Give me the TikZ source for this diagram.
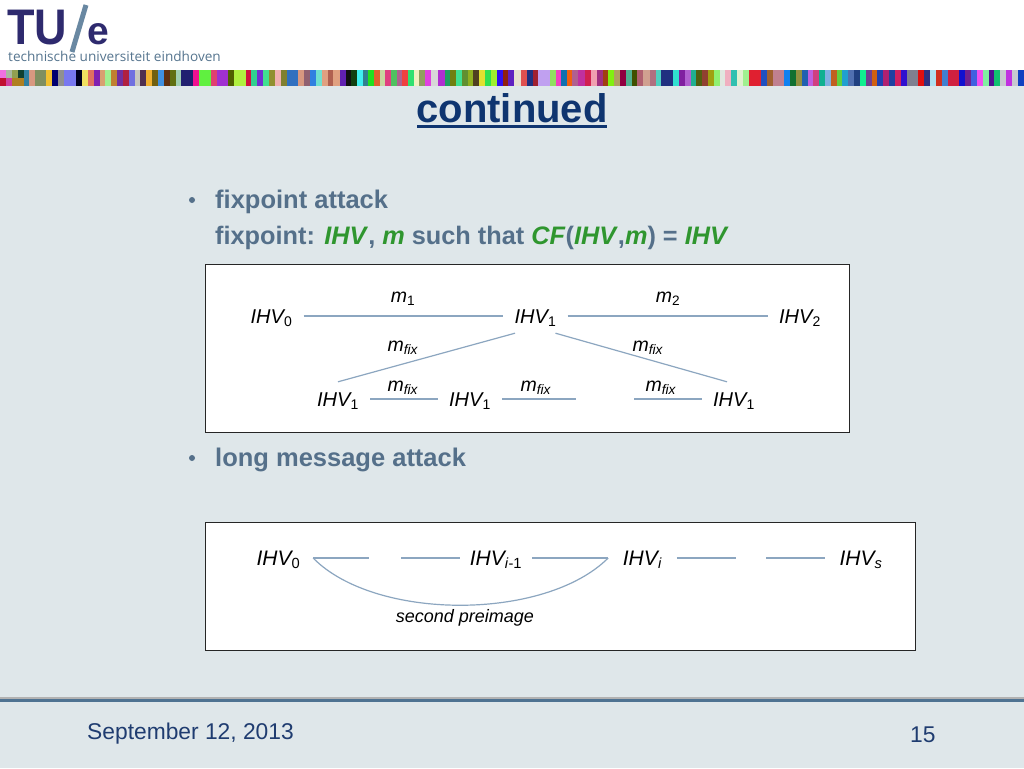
\documentclass[tikz,border=0pt]{standalone}
\usepackage{fontspec}
\setmainfont{Liberation Sans}
\newfontfamily\logofont{Open Sans}
\usetikzlibrary{positioning}

\definecolor{slidebg}{HTML}{DFE7EA}
\definecolor{titleblue}{HTML}{0F3570}
\definecolor{slate}{HTML}{55708A}
\definecolor{termgreen}{HTML}{2F962F}
\definecolor{rulecol}{HTML}{4F7392}
\definecolor{linkcol}{HTML}{8CA6C0}
\definecolor{footcol}{HTML}{1F3C70}
\definecolor{tuenavy}{HTML}{2E2A6E}

\newcommand{\fsz}[1]{\fontsize{#1}{#1}\selectfont}
\newcommand{\ihv}[1]{\textit{IHV}\kern-1.5pt\textsubscript{#1}}
\newcommand{\msg}[1]{\textit{m}\textsubscript{#1}}

\tikzset{
    state/.style={font=\fsz{20}, inner xsep=11pt, inner ysep=2pt, text height=14pt, text depth=0pt},
    lowstate/.style={state, font=\fsz{21}},
    msglabel/.style={font=\fsz{19.5}, inner sep=0pt},
    link/.style={draw=linkcol, line width=1.2pt},
    panel/.style={draw=black!85, fill=white, line width=.8pt},
    bullettext/.style={font=\fsz{25.5}\bfseries, text=slate, anchor=base west, inner sep=0pt},
    foottext/.style={font=\fsz{22.8}, text=footcol, anchor=base west, inner sep=0pt}
}

\begin{document}
\begin{tikzpicture}[x=1pt, y=-1pt, >=latex]
    \useasboundingbox (0,0) rectangle (1024,768);

    % Hintergrund
    \fill [slidebg] (0,0) rectangle (1024,768);
    \fill [white] (0,0) rectangle (1024,70);

    % Farbleiste
    \foreach \barcol/\xb [remember=\xb as \xa (initially 0)] in {
        F070E0/6,A8B8A0/12,90A050/18,104030/24,3080A0/29,D89880/35,7F8F60/46,F0C030/52,
        000070/58,909090/64,7878F0/76,000020/82,F0E060/88,E07060/94,8020B0/100,D8A070/105,
        A0F090/111,C08030/117,7030A0/123,B02040/129,7070E0/135,C8C8C0/140,503050/146,F0B030/152,
        706010/158,4090E0/164,603010/170,607010/176,A0D0B0/181,202070/193,F01090/199,60F040/211,
        E04070/217,A030D0/228,506000/234,B0F040/246,D01040/251,30D090/257,7030D0/263,40E090/269,
        909030/275,F0B0B0/281,808030/287,3070C0/298,D89880/304,906070/310,3080E0/316,70E0D0/322,
        E0A080/328,B06050/333,E0A080/340,6020B0/346,101010/351,104010/357,40F0F0/363,308090/368,
        20E020/374,E06030/380,C8D8A0/385,E04080/391,50C060/397,B06090/402,F04040/408,30E070/414,
        F0F0C0/419,90A060/425,E040E0/431,D8D8D8/438,B030D0/445,20A060/450,708010/456,40E090/462,
        609030/468,90B020/473,504020/479,E0E030/485,30E050/491,A0F030/497,3010F0/503,902010/508,
        6020C0/514,E8E0D0/521,E05050/527,203080/533,A02030/538,C0A0F0/550,90E060/556,F040C0/561,
        1070B0/567,F06010/572,B06090/578,C030A0/585,D02050/591,F0A0B0/597,A03080/603,A04010/608,
        80F010/614,B0A060/620,900040/626,50B090/632,405000/637,B06070/643,D0A090/650,B07080/656,
        50D0C0/661,203080/673,30E0D0/679,8020A0/685,B060D0/691,20B090/696,506010/702,904030/708,
        A0A010/714,90F070/720,E0E8E0/725,F0B0C0/731,30C0B0/737,E0F0D0/743,A0F090/749,E02030/761,
        2050C0/767,A06030/773,C08090/784,1080F0/790,107030/796,909040/802,2060B0/808,C060E0/813,
        D04080/819,10B090/825,80B0E0/831,C06020/837,60D040/842,20A0D0/848,5070B0/854,204080/860,
        10F090/866,704090/872,D06010/877,2040B0/883,B02070/889,2040A0/895,D02060/901,3010D0/907,
        808090/918,E01010/924,303080/930,B0E0F0/936,D03020/942,4080D0/948,D02040/959,1010D0/965,
        702090/971,4060E0/977,F050F0/983,80F0A0/989,501090/994,10C070/1000,C8C8D0/1006,C030E0/1012,
        C8C8D0/1018,1040C0/1024}
    {
        \definecolor{barfill}{HTML}{\barcol}
        \fill [barfill] (\xa,70) rectangle (\xb,86);
    }
    \foreach \barcol/\xa/\xb in {C01030/0/6,D040A0/6/12,B08020/12/24}
    {
        \definecolor{barfill}{HTML}{\barcol}
        \fill [barfill] (\xa,78) rectangle (\xb,86);
    }

    % Logo
    \node [anchor=base west, inner sep=0pt, text=tuenavy, font=\fsz{50}\bfseries, xscale=.9, transform shape] (logoTU) at (7,45) {TU};
    \draw [draw=rulecol!85!white, line width=5pt] (86,5) -- (72,52);
    \node [anchor=base west, inner sep=0pt, text=tuenavy, font=\fsz{39}\bfseries] (logoE) at (87,45) {e};
    \node [anchor=base west, inner sep=0pt, text=rulecol!85!gray, font=\logofont\fsz{13.6}] (logoName) at (8,62) {technische universiteit eindhoven};

    % Titel
    \node [anchor=base, inner sep=0pt, text=titleblue, font=\fsz{40}\bfseries] (title) at (512,122) {continued};
    \draw [titleblue, line width=2.5pt] (417,126.5) -- (607,126.5);

    % Text
    \fill [slate] (192,200) circle (3pt) (192,458) circle (3pt);
    \node [bullettext] (pointA) at (215,208) {fixpoint attack};
    \node [bullettext, font=\fsz{25.3}\bfseries] (pointB) at (215,244) {fixpoint: \textcolor{termgreen}{\textit{IHV}}, \textcolor{termgreen}{\textit{m}} such that \textcolor{termgreen}{\textit{CF}}(\textcolor{termgreen}{\textit{IHV}},\textcolor{termgreen}{\textit{m}}) = \textcolor{termgreen}{\textit{IHV}}};
    \node [bullettext] (pointC) at (215,466) {long message attack};

    % Rahmen
    \draw [panel] (205.5,264) rectangle (849,432);
    \draw [panel] (205.5,522) rectangle (915,650);

    % Zustaende oben
    \node [state] (top0) at (271.5,316) {\ihv{0}};
    \node [state] (top1) at (535.5,316) {\ihv{1}};
    \node [state] (top2) at (800,316) {\ihv{2}};
    \node [state] (fixA) at (338,399) {\ihv{1}};
    \node [state] (fixB) at (470,399) {\ihv{1}};
    \node [state] (fixC) at (734,399) {\ihv{1}};
    \coordinate (fixOutB) at (576,399);
    \coordinate (fixInC) at (634,399);

    % Leiter oben
    \draw [link] (top0) -- (top1);
    \draw [link] (top1) -- (top2);
    \draw [link] ([xshift=-20.5pt,yshift=-8pt]top1.south) -- ([yshift=8pt]fixA.north);
    \draw [link] ([xshift=20pt,yshift=-8pt]top1.south) -- ([xshift=-7pt,yshift=8pt]fixC.north);
    \draw [link] (fixA) -- (fixB);
    \draw [link] (fixB) -- (fixOutB);
    \draw [link] (fixInC) -- (fixC);

    \node [msglabel] (labOne) at (403,299) {\msg{1}};
    \node [msglabel] (labTwo) at (668,299) {\msg{2}};
    \node [msglabel] (labFixA) at (403,348) {\msg{\textit{fix}}};
    \node [msglabel] (labFixB) at (648,348) {\msg{\textit{fix}}};
    \node [msglabel] (labFixC) at (403,388) {\msg{\textit{fix}}};
    \node [msglabel] (labFixD) at (536,388) {\msg{\textit{fix}}};
    \node [msglabel] (labFixE) at (661,388) {\msg{\textit{fix}}};

    % Zustaende unten
    \node [lowstate, inner xsep=12.5pt] (low0) at (278.5,558) {\ihv{0}};
    \node [lowstate, inner xsep=10pt] (lowA) at (496,558) {\ihv{\textit{i}-1}};
    \node [lowstate, inner xsep=14.5pt] (lowB) at (642.5,558) {\ihv{\textit{i}}};
    \node [lowstate, inner xsep=14pt] (lowC) at (861,558) {\ihv{\textit{s}}};
    \coordinate (lowOut0) at (369,558);
    \coordinate (lowInA) at (401,558);
    \coordinate (lowOutB) at (736,558);
    \coordinate (lowInC) at (766,558);

    % Leiter unten
    \draw [link] (low0) -- (lowOut0);
    \draw [link] (lowInA) -- (lowA);
    \draw [link] (lowA) -- (lowB);
    \draw [link] (lowB) -- (lowOutB);
    \draw [link] (lowInC) -- (lowC);
    \draw [link] (low0.east) .. controls (375,621) and (545,621) .. (lowB.west);
    \node [inner sep=0pt, font=\fsz{18}\itshape] (second) at (465,618) {second preimage};

    % Fusszeile
    \fill [gray!60] (0,697) rectangle (1024,699);
    \fill [rulecol] (0,699) rectangle (1024,702);
    \node [foottext] (date) at (87,739) {September 12, 2013};
    \node [foottext] (page) at (910,742) {15};
\end{tikzpicture}
\end{document}
